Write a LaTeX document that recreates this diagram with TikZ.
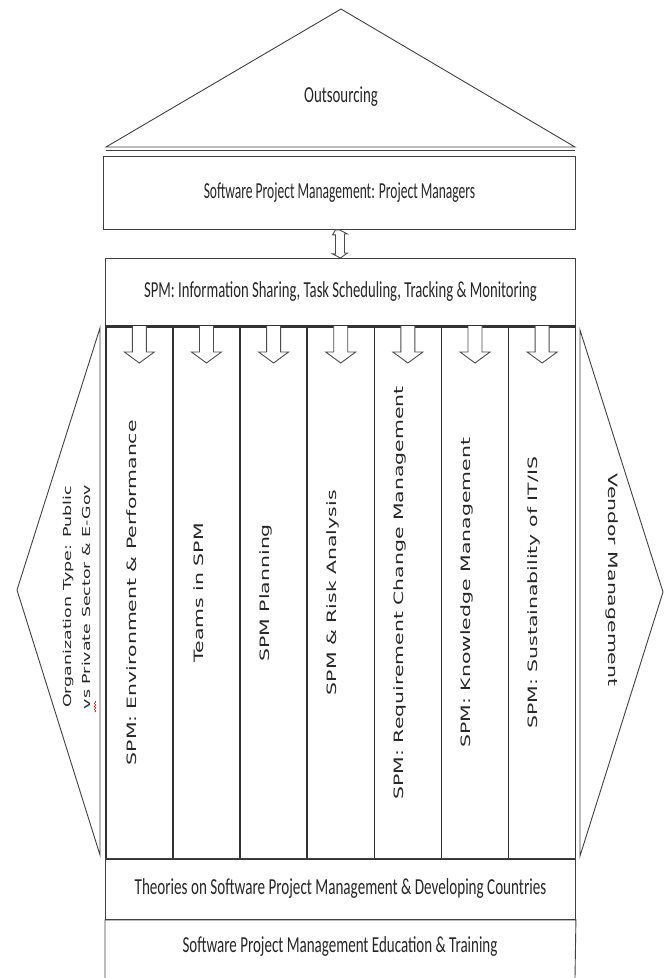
\documentclass[tikz,border=0pt]{standalone}
\usepackage{fontspec}
\setmainfont{Carlito}
\newfontfamily\colfont{DejaVu Sans}
\usetikzlibrary{positioning,calc,decorations.pathmorphing}

\begin{document}
\begin{tikzpicture}[x=1bp, y=-1bp,
    ln/.style={draw=black!75, line width=0.9bp},
    box/.style={ln, rectangle, inner sep=0pt, anchor=north west},
    col/.style={draw=black!80, line width=1.5bp, rectangle, inner sep=0pt, anchor=north west, minimum width=67.14bp, minimum height=532bp},
    hollow/.style={draw=black!70, line width=0.9bp, fill=white},
    hlbl/.style={font=\fontsize{23}{26}\selectfont, text=black!85, xscale=#1},
    hlbl/.default=0.62,
    vlbl/.style={font=\colfont\fontsize{20.5}{31}\selectfont, text=black!85, rotate=90, yscale=0.63, align=center},
    rlbl/.style={font=\colfont\fontsize{20.5}{31}\selectfont, text=black!85, rotate=-90, yscale=0.63}
]
\useasboundingbox (0,0) rectangle (670,978);

% roof
\coordinate (roofl) at (106,147);
\coordinate (roofr) at (575,147);
\coordinate (apex) at (341,9);
\draw[ln] (roofl) -- (apex) -- (roofr) -- cycle;
\draw[ln] ($(roofl)+(0,3)$) -- ($(roofr)+(0,3)$);
\node[hlbl=0.65] (out) at (341,97) {Outsourcing};

% top boxes
\node[box, minimum width=472bp, minimum height=73bp] (pm) at (103,156) {};
\node[hlbl=0.59] at (pm.center) {Software Project Management: Project Managers};
\node[box, minimum width=470bp, minimum height=67bp] (info) at (105,258) {};
\node[hlbl=0.64] at (info.center) {SPM: Information Sharing, Task Scheduling, Tracking \& Monitoring};
\draw[draw=black!80, line width=1.8bp] (info.south west) -- (info.south east);

% double arrow between the boxes
\draw[hollow] ($(pm.south)+(-4,0)$) coordinate (da) -- ++(-3,5) -- ++(3,0) -- ++(0,19) -- ++(-3,0)
  -- ($(info.north)+(0,0)$) -- ++(7,-5) -- ++(-3,0) -- ++(0,-19) -- ++(3,0) -- (pm.south) -- cycle;

% pillars
\foreach \t [count=\i] in {{SPM: Environment \& Performance}, {Teams in SPM}, {SPM Planning},
    {SPM \& Risk Analysis}, {SPM: Requirement Change Management}, {SPM: Knowledge Management},
    {SPM: Sustainability of IT/IS}} {
  \node[col] (col\i) at (105+\i*67.14-67.14, 326) {};
  \draw[hollow] ($(col\i.north)+(-7,0)$) -- ++(0,26) -- ++(-8,0) -- ($(col\i.north)+(0,37)$)
    -- ++(15,-11) -- ++(-8,0) -- ++(0,-26);
  \node[vlbl] (lbl\i) at ($(col\i.center)+(-8,0)$) {\t};
}
\draw[draw=black!80, line width=1.8bp] (col1.south west) -- (col7.south east);

% foundation
\node[box, minimum width=470bp, minimum height=61bp] (theo) at (105,858) {};
\node[hlbl=0.66] at (theo.center) {Theories on Software Project Management \& Developing Countries};
\coordinate (edl) at (105,978);
\coordinate (edr) at (575,978);
\draw[ln] (edl) -- (theo.south west) -- (theo.south east) -- (edr);
\node[hlbl=0.655] (edu) at (340,947) {Software Project Management Education \& Training};

% side walls
\draw[ln] (100,328) -- (17,590) coordinate (ltip) -- (100,855) -- cycle;
\node[vlbl, font=\colfont\fontsize{17.5}{31}\selectfont] (org) at (77,597) {Organization Type: Public\\vs Private Sector \& E-Gov};
\draw[red, line width=0.6bp, decorate, decoration={snake, amplitude=0.8bp, segment length=3bp}] (95,701) -- (95,712);
\draw[ln] (580,330) -- (663,592) coordinate (rtip) -- (580,856) -- cycle;
\node[rlbl] (vend) at (612,580) {Vendor Management};
\end{tikzpicture}
\end{document}
